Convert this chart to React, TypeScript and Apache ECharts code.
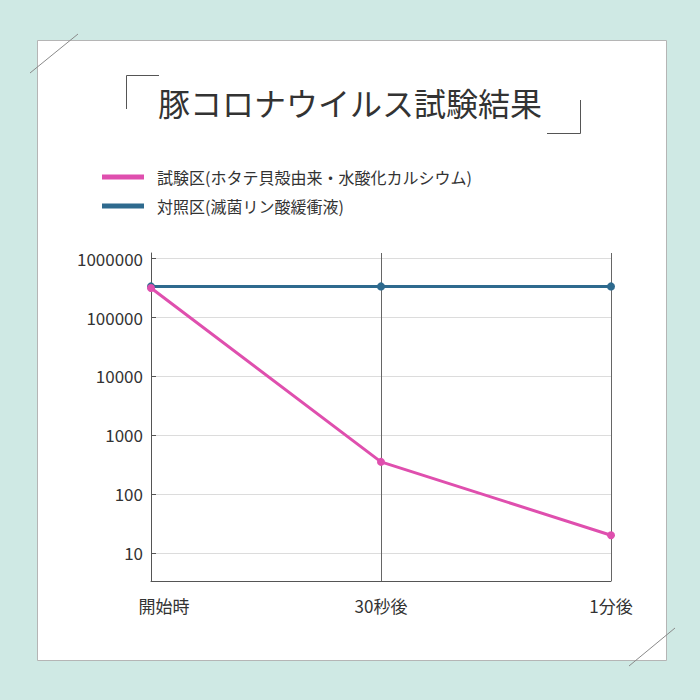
import React, { useEffect, useRef } from 'react';
import * as echarts from 'echarts';

const categories = ['開始時', '30秒後', '1分後'];
const testName = '試験区(ホタテ貝殻由来・水酸化カルシウム)';
const controlName = '対照区(滅菌リン酸緩衝液)';
const testValues = [310000, 350, 20];
const controlValues = [330000, 330000, 330000];
const titleText = '豚コロナウイルス試験結果';

const FONT = '"Noto Sans CJK JP", "Noto Sans", sans-serif';

const App: React.FC = () => {
  const chartRef = useRef<HTMLDivElement>(null);

  useEffect(() => {
    if (!chartRef.current) return;
    const chart = echarts.init(chartRef.current, undefined, { renderer: 'svg' });

    const option = {
      animation: false,
      backgroundColor: '#cfe9e4',
      textStyle: { fontFamily: FONT },
      title: {
        text: titleText,
        left: 'center',
        top: 81,
        textStyle: {
          fontSize: 32,
          fontWeight: 'normal',
          color: '#333',
          fontFamily: FONT,
        },
      },
      graphic: [
        {
          type: 'rect',
          z: -10,
          shape: { x: 37.5, y: 40.5, width: 629, height: 620 },
          style: { fill: '#ffffff', stroke: '#b5b5b5', lineWidth: 1 },
        },
        {
          type: 'line',
          shape: { x1: 30, y1: 73, x2: 78, y2: 34 },
          style: { stroke: '#8a8a8a', lineWidth: 1 },
        },
        {
          type: 'line',
          shape: { x1: 629, y1: 666, x2: 675, y2: 628 },
          style: { stroke: '#8a8a8a', lineWidth: 1 },
        },
        {
          type: 'polyline',
          shape: { points: [[126.5, 109], [126.5, 75.5], [159, 75.5]] },
          style: { stroke: '#555', lineWidth: 1, fill: 'none' },
        },
        {
          type: 'polyline',
          shape: { points: [[547, 133.5], [580.5, 133.5], [580.5, 100]] },
          style: { stroke: '#555', lineWidth: 1, fill: 'none' },
        },
      ],
      legend: {
        data: [testName, controlName],
        orient: 'vertical',
        left: 97,
        top: 164,
        icon: 'rect',
        itemWidth: 42,
        itemHeight: 5,
        itemGap: 13,
        textStyle: {
          fontSize: 16,
          color: '#333',
          fontFamily: FONT,
          padding: [0, 0, 0, 8],
        },
      },
      grid: {
        left: 151,
        right: 89,
        top: 253,
        bottom: 119,
      },
      xAxis: {
        type: 'category',
        boundaryGap: false,
        data: categories.map((c, i) =>
          i === 0 ? { value: c, textStyle: { padding: [0, 0, 0, 26] } } : c
        ),
        axisLine: { lineStyle: { color: '#555', width: 1 } },
        axisTick: { show: false },
        axisLabel: { fontSize: 17, color: '#333', margin: 16, fontFamily: FONT },
        splitLine: { show: true, lineStyle: { color: '#666', width: 1 } },
      },
      yAxis: {
        type: 'log',
        logBase: 10,
        min: 3.35,
        max: 1216000,
        axisLine: { show: true, lineStyle: { color: '#555', width: 1 } },
        axisTick: { show: true, inside: true, length: 5, lineStyle: { color: '#555' } },
        axisLabel: {
          fontSize: 17,
          color: '#333',
          margin: 8,
          fontFamily: FONT,
          showMinLabel: false,
          showMaxLabel: false,
          formatter: (v: number) => String(Math.round(v)),
        },
        splitLine: {
          show: true,
          showMinLine: false,
          showMaxLine: false,
          lineStyle: { color: '#dcdcdc', width: 1 },
        },
      },
      series: [
        {
          name: controlName,
          type: 'line',
          data: controlValues,
          symbol: 'circle',
          symbolSize: 8,
          color: '#2e6a8e',
          lineStyle: { width: 3, color: '#2e6a8e' },
          itemStyle: { color: '#2e6a8e' },
        },
        {
          name: testName,
          type: 'line',
          data: testValues,
          symbol: 'circle',
          symbolSize: 8,
          color: '#df4fae',
          lineStyle: { width: 3, color: '#df4fae' },
          itemStyle: { color: '#df4fae' },
        },
      ],
    };

    chart.setOption(option);
    return () => {
      chart.dispose();
    };
  }, []);

  return (
    <div
      ref={chartRef}
      style={{ position: 'fixed', left: 0, top: 0, width: '700px', height: '700px' }}
    />
  );
};

export default App;
